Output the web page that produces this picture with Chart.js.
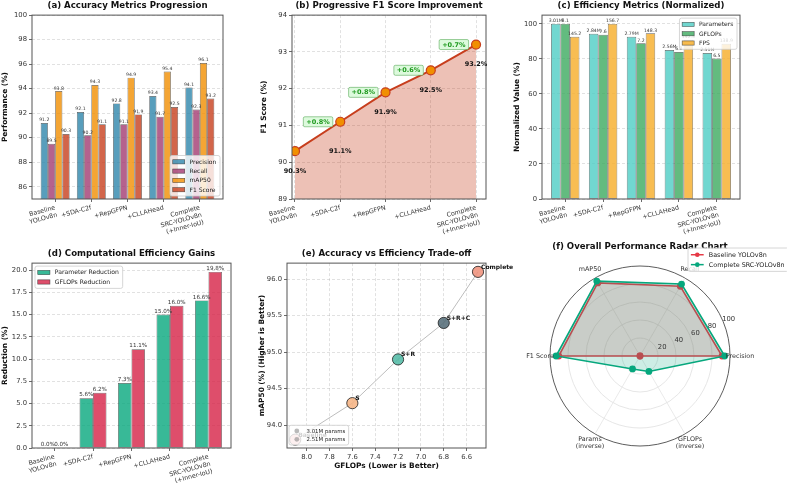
<!DOCTYPE html>
<html>
<head>
<meta charset="utf-8">
<title>SRC-YOLOv8n ablation</title>
<script src="https://cdn.jsdelivr.net/npm/chart.js@4.4.1/dist/chart.umd.min.js"></script>
<style>
  html, body { margin: 0; padding: 0; background: #fff; }
  body { position: relative; width: 787px; height: 483px; overflow: hidden; }
  canvas { position: absolute; }
</style>
</head>
<body>
<script>
// ---- values ----
var stages = [['Baseline', 'YOLOv8n'], '+SDA-C2f', '+RepGFPN', '+CLLAHead', ['Complete', 'SRC-YOLOv8n', '(+Inner-IoU)']];
var precision = [91.2, 92.1, 92.8, 93.4, 94.1];
var recall = [89.5, 90.2, 91.1, 91.7, 92.3];
var map50 = [93.8, 94.3, 94.9, 95.4, 96.1];
var f1 = [90.3, 91.1, 91.9, 92.5, 93.2];
var f1Gain = ['+0.8%', '+0.8%', '+0.6%', '+0.7%'];

var paramsM = [3.01, 2.84, 2.79, 2.56, 2.51];
var gflops = [8.1, 7.6, 7.2, 6.8, 6.5];
var fps = [145.2, 156.7, 148.3, 142.5, 138.9];

var paramRed = [0.0, 5.6, 7.3, 15.0, 16.6];
var gflopRed = [0.0, 6.2, 11.1, 16.0, 19.8];

var shortNames = ['Baseline', 'S', 'S+R', 'S+R+C', 'Complete'];
var gflopTicks = [8.0, 7.8, 7.6, 7.4, 7.2, 7.0, 6.8, 6.6];
var mapTicks = [94.0, 94.5, 95.0, 95.5, 96.0];

var radarAxes = ['Precision', 'Recall', 'mAP50', 'F1 Score', ['Params', '(inverse)'], ['GFLOPs', '(inverse)']];
var radarBase = [91.2, 89.5, 93.8, 90.3, 0, 0];
var radarFull = [94.1, 92.3, 96.1, 93.2, 16.6, 19.8];

// ---- helpers ----
var FONT = "'DejaVu Sans', 'Liberation Sans', sans-serif";
Chart.defaults.font.family = FONT;
Chart.defaults.color = '#333';

function makeCanvas(id, left, top, w, h) {
  var c = document.createElement('canvas');
  c.id = id;
  c.width = w;
  c.height = h;
  c.style.left = left + 'px';
  c.style.top = top + 'px';
  c.style.width = w + 'px';
  c.style.height = h + 'px';
  document.body.appendChild(c);
  return c;
}

function pts(xs, ys) {
  return ys.map(function (v, i) { return { x: xs ? xs[i] : i, y: v }; });
}

function titleOpts(text, top, bottom) {
  return {
    display: true, fullSize: false, text: text, color: '#111',
    font: { size: 8.6, weight: 'bold' }, padding: { top: top, bottom: bottom }
  };
}

function linAxis(o) {
  return {
    type: 'linear', min: o.min, max: o.max, reverse: !!o.reverse, offset: false,
    afterBuildTicks: function (s) {
      s.ticks = o.ticks.map(function (v) { return { value: v }; });
    },
    afterFit: function (s) {
      if (o.horiz) { s.height = o.size; s.paddingLeft = 0; s.paddingRight = 0; }
      else { s.width = o.size; s.paddingTop = 0; s.paddingBottom = 0; }
    },
    grid: {
      offset: false, drawOnChartArea: o.grid !== false, color: 'rgba(160,160,160,0.45)', lineWidth: 0.7,
      tickColor: '#444', tickLength: 3, tickWidth: 0.8
    },
    border: { display: false, dash: [3, 2] },
    ticks: {
      color: '#333', font: { size: o.fontSize || 6.8 }, padding: 2, autoSkip: false,
      maxRotation: o.rot || 0, minRotation: o.rot || 0, callback: o.fmt
    },
    title: o.title ? {
      display: true, text: o.title, color: '#111',
      font: { size: 7.4, weight: 'bold' }, padding: o.titlePad
    } : { display: false }
  };
}

function stageAxis(min, max, height, grid) {
  return linAxis({
    horiz: true, min: min, max: max, ticks: [0, 1, 2, 3, 4], size: height, rot: 15,
    fontSize: 6.3, grid: grid, fmt: function (v) { return stages[v]; }
  });
}

function barSet(label, vals, color, catPct) {
  return {
    label: label, data: pts(null, vals), backgroundColor: color,
    borderColor: 'rgba(40,40,40,0.75)', borderWidth: 0.7, borderSkipped: false,
    categoryPercentage: catPct, barPercentage: 1
  };
}

function baseOpts(padding, title, scales) {
  return {
    responsive: false, animation: false, devicePixelRatio: 1,
    layout: { padding: padding },
    plugins: { legend: { display: false }, tooltip: { enabled: false }, title: title },
    scales: scales
  };
}

function extras(draw) {
  return {
    id: 'extras',
    afterDraw: function (chart) {
      var ctx = chart.ctx;
      ctx.save();
      draw(chart, ctx);
      ctx.restore();
    }
  };
}

function frame(chart, ctx) {
  var a = chart.chartArea;
  ctx.strokeStyle = '#555';
  ctx.lineWidth = 1;
  ctx.setLineDash([]);
  ctx.strokeRect(a.left, a.top, a.right - a.left, a.bottom - a.top);
}

function barLabels(chart, ctx, fmts, size) {
  ctx.font = size + 'px ' + FONT;
  ctx.fillStyle = '#333';
  ctx.textAlign = 'center';
  ctx.textBaseline = 'bottom';
  chart.data.datasets.forEach(function (ds, d) {
    chart.getDatasetMeta(d).data.forEach(function (bar, i) {
      ctx.fillText(fmts[d](i), bar.x, bar.y - 0.5);
    });
  });
}

// box legend drawn inside the plot like matplotlib's
function legendBox(ctx, items, o) {
  var s = o.size;
  ctx.font = s + 'px ' + FONT;
  var tw = 0;
  items.forEach(function (it) { tw = Math.max(tw, ctx.measureText(it.text).width); });
  var pad = s * 0.45, hw = s * 2, gap = s * 0.8, rowH = s * 1.55;
  var w = pad * 2 + hw + gap + tw + 1;
  var h = pad * 2 + s * 1.2 + rowH * (items.length - 1);
  var x = o.right !== undefined ? o.right - w : o.left;
  var y = o.bottom !== undefined ? o.bottom - h : o.top;
  ctx.fillStyle = 'rgba(255,255,255,0.8)';
  ctx.strokeStyle = '#cccccc';
  ctx.lineWidth = 0.8;
  ctx.beginPath();
  ctx.roundRect(x, y, w, h, 2);
  ctx.fill();
  ctx.stroke();
  items.forEach(function (it, k) {
    var cy = y + pad + s * 0.6 + rowH * k;
    var sx = x + pad;
    if (it.kind === 'circle') {
      ctx.fillStyle = it.color;
      ctx.beginPath();
      ctx.arc(sx + hw / 2, cy, s * 0.45, 0, Math.PI * 2);
      ctx.fill();
    } else if (it.kind === 'line') {
      ctx.strokeStyle = it.color;
      ctx.lineWidth = 1.5;
      ctx.beginPath();
      ctx.moveTo(sx, cy);
      ctx.lineTo(sx + hw, cy);
      ctx.stroke();
      ctx.fillStyle = it.color;
      ctx.beginPath();
      ctx.arc(sx + hw / 2, cy, 2.3, 0, Math.PI * 2);
      ctx.fill();
    } else {
      ctx.fillStyle = it.color;
      ctx.fillRect(sx, cy - s * 0.35, hw, s * 0.7);
      ctx.strokeStyle = 'rgba(40,40,40,0.75)';
      ctx.lineWidth = 0.6;
      ctx.strokeRect(sx, cy - s * 0.35, hw, s * 0.7);
    }
    ctx.fillStyle = '#222';
    ctx.textAlign = 'left';
    ctx.textBaseline = 'middle';
    ctx.fillText(it.text, sx + hw + gap, cy + 0.3);
  });
}

// ---- (a) accuracy metrics ----
var colA = ['rgba(46,134,171,0.8)', 'rgba(162,59,114,0.8)', 'rgba(241,143,1,0.8)', 'rgba(199,62,29,0.8)'];
new Chart(makeCanvas('chA', 0, 0, 232, 241), {
  type: 'bar',
  data: {
    datasets: [
      barSet('Precision', precision, colA[0], 0.8),
      barSet('Recall', recall, colA[1], 0.8),
      barSet('mAP50', map50, colA[2], 0.8),
      barSet('F1 Score', f1, colA[3], 0.8)
    ]
  },
  options: baseOpts({ left: 0, right: 9, top: 0, bottom: 0 },
    titleOpts('(a) Accuracy Metrics Progression', 1, 3.8), {
      x: stageAxis(-0.64, 4.64, 42, false),
      y: linAxis({
        min: 85, max: 100, ticks: [86, 88, 90, 92, 94, 96, 98, 100], size: 32,
        title: 'Performance (%)', titlePad: { top: 0.6, bottom: 0 },
        fmt: function (v) { return String(v); }
      })
    }),
  plugins: [extras(function (chart, ctx) {
    var sets = [precision, recall, map50, f1];
    barLabels(chart, ctx, sets.map(function (arr) {
      return function (i) { return arr[i].toFixed(1); };
    }), 4.6);
    frame(chart, ctx);
    legendBox(ctx, ['Precision', 'Recall', 'mAP50', 'F1 Score'].map(function (t, k) {
      return { text: t, color: colA[k] };
    }), { size: 6, right: chart.chartArea.right - 3, bottom: chart.chartArea.bottom - 3 });
  })]
});

// ---- (b) F1 progression ----
new Chart(makeCanvas('chB', 258, 0, 236, 241), {
  type: 'line',
  data: {
    datasets: [{
      data: pts(null, f1), borderColor: '#C73E1D', borderWidth: 2,
      backgroundColor: 'rgba(199,62,29,0.32)', fill: 'start', tension: 0,
      pointRadius: 4.5, pointBackgroundColor: '#F18F01',
      pointBorderColor: '#C73E1D', pointBorderWidth: 1.2
    }]
  },
  options: baseOpts({ left: 0, right: 8, top: 0, bottom: 0 },
    titleOpts('(b) Progressive F1 Score Improvement', 1, 3.8), {
      x: stageAxis(-0.066, 4.22, 42, true),
      y: linAxis({
        min: 89, max: 94, ticks: [89, 90, 91, 92, 93, 94], size: 34,
        title: 'F1 Score (%)', titlePad: { top: 1.6, bottom: 0 },
        fmt: function (v) { return String(v); }
      })
    }),
  plugins: [extras(function (chart, ctx) {
    var xs = chart.scales.x, ys = chart.scales.y;
    var drop = [20, 30, 20, 20, 20];
    frame(chart, ctx);
    ctx.font = 'bold 6.5px ' + FONT;
    ctx.textAlign = 'center';
    ctx.textBaseline = 'middle';
    ctx.fillStyle = '#111';
    f1.forEach(function (v, i) {
      ctx.fillText(v.toFixed(1) + '%', xs.getPixelForValue(i), ys.getPixelForValue(v) + drop[i]);
    });
    f1Gain.forEach(function (g, k) {
      var i = k + 1;
      var px = xs.getPixelForValue(i - 0.49), py = ys.getPixelForValue(f1[i]);
      var bw = ctx.measureText(g).width + 6, bh = 10;
      ctx.fillStyle = '#ffffff';
      ctx.beginPath();
      ctx.roundRect(px - bw / 2, py - bh / 2, bw, bh, 1.5);
      ctx.fill();
      ctx.fillStyle = 'rgba(144,238,144,0.3)';
      ctx.strokeStyle = 'rgba(34,139,34,0.55)';
      ctx.lineWidth = 0.8;
      ctx.fill();
      ctx.stroke();
      ctx.fillStyle = '#1f9a1f';
      ctx.fillText(g, px, py + 0.3);
    });
  })]
});

// ---- (c) efficiency metrics, normalised to the baseline / best FPS ----
var fpsMax = Math.max.apply(null, fps);
var colC = ['rgba(78,205,196,0.8)', 'rgba(60,170,95,0.8)', 'rgba(247,178,52,0.85)'];
new Chart(makeCanvas('chC', 508, 0, 279, 241), {
  type: 'bar',
  data: {
    datasets: [
      barSet('Parameters', paramsM.map(function (v) { return v / paramsM[0] * 100; }), colC[0], 0.75),
      barSet('GFLOPs', gflops.map(function (v) { return v / gflops[0] * 100; }), colC[1], 0.75),
      barSet('FPS', fps.map(function (v) { return v / fpsMax * 100; }), colC[2], 0.75)
    ]
  },
  options: baseOpts({ left: 0, right: 47, top: 0, bottom: 0 },
    titleOpts('(c) Efficiency Metrics (Normalized)', 1, 3.8), {
      x: stageAxis(-0.6125, 4.6125, 42, false),
      y: linAxis({
        min: 0, max: 105, ticks: [0, 20, 40, 60, 80, 100], size: 34,
        title: 'Normalized Value (%)', titlePad: { top: 4.6, bottom: 0 },
        fmt: function (v) { return String(v); }
      })
    }),
  plugins: [extras(function (chart, ctx) {
    barLabels(chart, ctx, [
      function (i) { return paramsM[i].toFixed(2) + 'M'; },
      function (i) { return gflops[i].toFixed(1); },
      function (i) { return fps[i].toFixed(1); }
    ], 4.6);
    frame(chart, ctx);
    legendBox(ctx, ['Parameters', 'GFLOPs', 'FPS'].map(function (t, k) {
      return { text: t, color: colC[k] };
    }), { size: 6, right: chart.chartArea.right - 3, top: chart.chartArea.top + 3 });
  })]
});

// ---- (d) computational efficiency gains ----
var colD = ['rgba(6,167,125,0.8)', 'rgba(214,34,70,0.8)'];
new Chart(makeCanvas('chD', 0, 241, 240, 242), {
  type: 'bar',
  data: {
    datasets: [
      barSet('Parameter Reduction', paramRed, colD[0], 0.7),
      barSet('GFLOPs Reduction', gflopRed, colD[1], 0.7)
    ]
  },
  options: baseOpts({ left: 0, right: 9, top: 0, bottom: 0 },
    titleOpts('(d) Computational Efficiency Gains', 7.9, 3.9), {
      x: stageAxis(-0.585, 4.585, 35, false),
      y: linAxis({
        min: 0, max: 20.79, ticks: [0, 2.5, 5, 7.5, 10, 12.5, 15, 17.5, 20], size: 32,
        title: 'Reduction (%)', titlePad: { top: 0.6, bottom: 0 },
        fmt: function (v) { return v.toFixed(1); }
      })
    }),
  plugins: [extras(function (chart, ctx) {
    barLabels(chart, ctx, [
      function (i) { return paramRed[i].toFixed(1) + '%'; },
      function (i) { return gflopRed[i].toFixed(1) + '%'; }
    ], 5.6);
    frame(chart, ctx);
    legendBox(ctx, ['Parameter Reduction', 'GFLOPs Reduction'].map(function (t, k) {
      return { text: t, color: colD[k] };
    }), { size: 6.1, left: chart.chartArea.left + 3, top: chart.chartArea.top + 3 });
  })]
});

// ---- (e) accuracy vs efficiency ----
var colE = ['#f6b3b3', 'rgba(246,178,128,0.85)', 'rgba(78,184,163,0.85)', 'rgba(80,104,116,0.85)', 'rgba(238,142,120,0.85)'];
new Chart(makeCanvas('chE', 253, 241, 265, 242), {
  type: 'scatter',
  data: {
    datasets: [
      {
        data: pts(gflops, map50), pointRadius: 5.6, backgroundColor: colE,
        borderColor: 'rgba(30,30,30,0.8)', borderWidth: 1
      },
      {
        data: pts(gflops, map50), showLine: true, borderColor: '#bdbdbd',
        borderWidth: 1, pointRadius: 0
      }
    ]
  },
  options: baseOpts({ left: 0, right: 32, top: 0, bottom: 0 },
    titleOpts('(e) Accuracy vs Efficiency Trade-off', 7.9, 3.9), {
      x: linAxis({
        horiz: true, reverse: true, min: 6.43, max: 8.172, ticks: gflopTicks, size: 35,
        title: 'GFLOPs (Lower is Better)', titlePad: { top: 0, bottom: 12.5 },
        fmt: function (v) { return v.toFixed(1); }
      }),
      y: linAxis({
        min: 93.685, max: 96.22, ticks: mapTicks, size: 34,
        title: 'mAP50 (%) (Higher is Better)', titlePad: { top: 4.6, bottom: 0 },
        fmt: function (v) { return v.toFixed(1); }
      })
    }),
  plugins: [extras(function (chart, ctx) {
    var xs = chart.scales.x, ys = chart.scales.y;
    frame(chart, ctx);
    ctx.font = 'bold 6px ' + FONT;
    ctx.fillStyle = '#111';
    ctx.textAlign = 'left';
    ctx.textBaseline = 'bottom';
    shortNames.forEach(function (n, i) {
      ctx.fillText(n, xs.getPixelForValue(gflops[i]) + 3, ys.getPixelForValue(map50[i]) - 1.5);
    });
    legendBox(ctx, [
      { text: paramsM[0].toFixed(2) + 'M params', color: 'rgba(128,128,128,0.55)', kind: 'circle' },
      { text: paramsM[4].toFixed(2) + 'M params', color: 'rgba(128,128,128,0.55)', kind: 'circle' }
    ], { size: 5.4, left: chart.chartArea.left + 2, bottom: chart.chartArea.bottom - 3 });
  })]
});

// ---- (f) radar; matplotlib runs counter-clockwise from 3 o'clock, Chart.js clockwise ----
var radarOrder = [0, 5, 4, 3, 2, 1];
new Chart(makeCanvas('chF', 520, 241, 267, 242), {
  type: 'radar',
  data: {
    labels: radarOrder.map(function (i) { return radarAxes[i]; }),
    datasets: [
      {
        label: 'Complete SRC-YOLOv8n', data: radarOrder.map(function (i) { return radarFull[i]; }),
        borderColor: '#06A77D', backgroundColor: 'rgba(6,167,125,0.2)', borderWidth: 1.6, fill: true,
        pointRadius: 2.6, pointBackgroundColor: '#06A77D', pointBorderColor: '#06A77D'
      },
      {
        label: 'Baseline YOLOv8n', data: radarOrder.map(function (i) { return radarBase[i]; }),
        borderColor: '#E63946', backgroundColor: 'rgba(230,57,70,0.2)', borderWidth: 1.6, fill: true,
        pointRadius: 2.6, pointBackgroundColor: '#E63946', pointBorderColor: '#E63946'
      }
    ]
  },
  options: {
    responsive: false, animation: false, devicePixelRatio: 1,
    layout: { padding: { left: 29, right: 56, top: 0, bottom: 36 } },
    elements: { line: { tension: 0 } },
    plugins: {
      legend: { display: false }, tooltip: { enabled: false },
      title: titleOpts('(f) Overall Performance Radar Chart', 0.9, 12.9)
    },
    scales: {
      r: {
        min: 0, max: 100, startAngle: 90,
        ticks: { display: false, stepSize: 20 },
        pointLabels: { display: false },
        grid: {
          circular: true, lineWidth: 0.8,
          color: function (c) { return c.index === 5 ? '#333' : '#e0e0e0'; }
        },
        angleLines: { color: '#e4e4e4', lineWidth: 0.8 }
      }
    }
  },
  plugins: [extras(function (chart, ctx) {
    var r = chart.scales.r;
    var a = 22.5 * Math.PI / 180;
    ctx.font = '6.8px ' + FONT;
    ctx.fillStyle = '#333';
    ctx.textAlign = 'center';
    ctx.textBaseline = 'middle';
    [20, 40, 60, 80, 100].forEach(function (v) {
      var d = r.getDistanceFromCenterForValue(v) + 6;
      ctx.fillText(String(v), r.xCenter + d * Math.cos(a), r.yCenter - d * Math.sin(a));
    });
    ctx.font = '6.4px ' + FONT;
    chart.data.labels.forEach(function (lab, i) {
      var p = r.getPointPosition(i, r.drawingArea + 10);
      var lines = Array.isArray(lab) ? lab : [lab];
      lines.forEach(function (t, k) {
        ctx.fillText(t, p.x, p.y + (k - (lines.length - 1) / 2) * 7.4);
      });
    });
    legendBox(ctx, [
      { text: 'Baseline YOLOv8n', color: '#E63946', kind: 'line' },
      { text: 'Complete SRC-YOLOv8n', color: '#06A77D', kind: 'line' }
    ], { size: 6.4, left: 168, top: 7 });
  })]
});
</script>
</body>
</html>
